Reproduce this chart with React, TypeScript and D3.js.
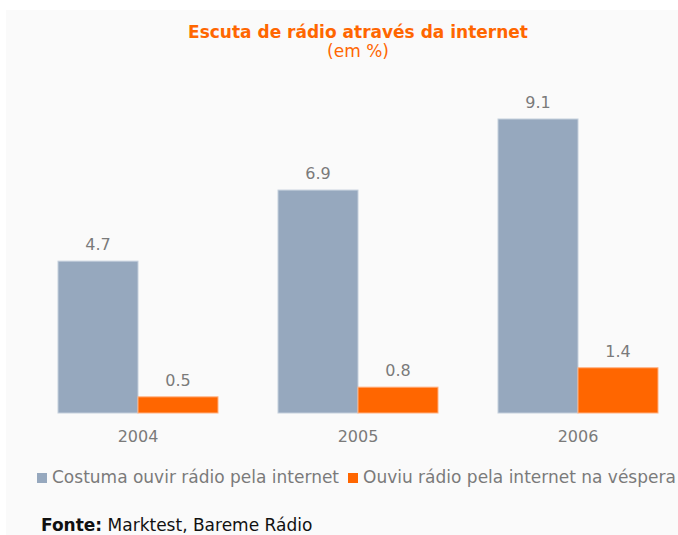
import React, { useEffect, useRef } from 'react';
import * as d3 from 'd3';

const years = ['2004', '2005', '2006'];
const costumaValues = [4.7, 6.9, 9.1];
const vesperaValues = [0.5, 0.8, 1.4];
const seriesNames = ['Costuma ouvir rádio pela internet', 'Ouviu rádio pela internet na véspera'];

const COLORS = {
  bg: '#fafafa',
  costuma: '#96a8be',
  vespera: '#ff6600',
  title: '#ff6600',
  label: '#7a7a7a',
};

const W = 678;
const H = 535;
const FONT = '"DejaVu Sans", Verdana, sans-serif';

export default function App() {
  const svgRef = useRef<SVGSVGElement>(null);

  useEffect(() => {
    if (!svgRef.current) return;
    const svg = d3.select(svgRef.current);
    svg.selectAll('*').remove();

    // panel background
    svg.append('rect')
      .attr('x', 6).attr('y', 10)
      .attr('width', W - 6).attr('height', H - 10)
      .attr('fill', COLORS.bg);

    // title
    svg.append('text')
      .attr('x', 358).attr('y', 38)
      .attr('text-anchor', 'middle')
      .attr('font-family', FONT)
      .attr('font-weight', 'bold')
      .attr('font-size', '17px')
      .attr('fill', COLORS.title)
      .text('Escuta de rádio através da internet');
    svg.append('text')
      .attr('x', 358).attr('y', 57)
      .attr('text-anchor', 'middle')
      .attr('font-family', FONT)
      .attr('font-size', '17px')
      .attr('fill', COLORS.title)
      .text('(em %)');

    const baseline = 413;
    const x0 = d3.scaleBand<string>()
      .domain(years)
      .range([28, 688])
      .paddingInner(60 / 220)
      .paddingOuter(30 / 220);
    const x1 = d3.scaleBand<number>()
      .domain([0, 1])
      .range([0, x0.bandwidth()]);
    const y = d3.scaleLinear()
      .domain([0, 9.1])
      .range([baseline, 119]);

    const rows = years.map((yr, i) => ({ yr, vals: [costumaValues[i], vesperaValues[i]] }));
    const barColors = [COLORS.costuma, COLORS.vespera];

    const groups = svg.selectAll('.grp')
      .data(rows)
      .enter().append('g')
      .attr('class', 'grp')
      .attr('transform', d => `translate(${x0(d.yr)},0)`);

    groups.selectAll('rect')
      .data(d => d.vals.map((v, k) => ({ v, k })))
      .enter().append('rect')
      .attr('x', d => x1(d.k)!)
      .attr('y', d => y(d.v))
      .attr('width', x1.bandwidth())
      .attr('height', d => baseline - y(d.v))
      .attr('fill', d => barColors[d.k])
      .attr('stroke', d => (d.k === 0 ? '#c4cfdc' : '#ffb080'))
      .attr('stroke-width', 1);

    groups.selectAll('text.val')
      .data(d => d.vals.map((v, k) => ({ v, k })))
      .enter().append('text')
      .attr('class', 'val')
      .attr('x', d => x1(d.k)! + x1.bandwidth() / 2)
      .attr('y', d => y(d.v) - 11)
      .attr('text-anchor', 'middle')
      .attr('font-family', FONT)
      .attr('font-size', '16px')
      .attr('fill', COLORS.label)
      .text(d => d.v.toFixed(1));

    // year labels
    svg.selectAll('.yr')
      .data(years)
      .enter().append('text')
      .attr('class', 'yr')
      .attr('x', d => x0(d)! + x0.bandwidth() / 2)
      .attr('y', 442)
      .attr('text-anchor', 'middle')
      .attr('font-family', FONT)
      .attr('font-size', '16px')
      .attr('fill', COLORS.label)
      .text(d => d);

    // legend
    const legendX = [37, 348];
    seriesNames.forEach((name, i) => {
      svg.append('rect')
        .attr('x', legendX[i]).attr('y', 473)
        .attr('width', 10).attr('height', 10)
        .attr('fill', barColors[i]);
      svg.append('text')
        .attr('x', legendX[i] + 15).attr('y', 483)
        .attr('font-family', FONT)
        .attr('font-size', '17px')
        .attr('fill', COLORS.label)
        .text(name);
    });

    // source
    const src = svg.append('text')
      .attr('x', 41).attr('y', 531)
      .attr('font-family', FONT)
      .attr('font-size', '17px')
      .attr('fill', '#111');
    src.append('tspan').attr('font-weight', 'bold').text('Fonte:');
    src.append('tspan').text(' Marktest, Bareme Rádio');
  }, []);

  return (
    <svg
      ref={svgRef}
      width={W}
      height={H}
      style={{ position: 'absolute', left: 0, top: 0, background: '#fff' }}
    />
  );
}
